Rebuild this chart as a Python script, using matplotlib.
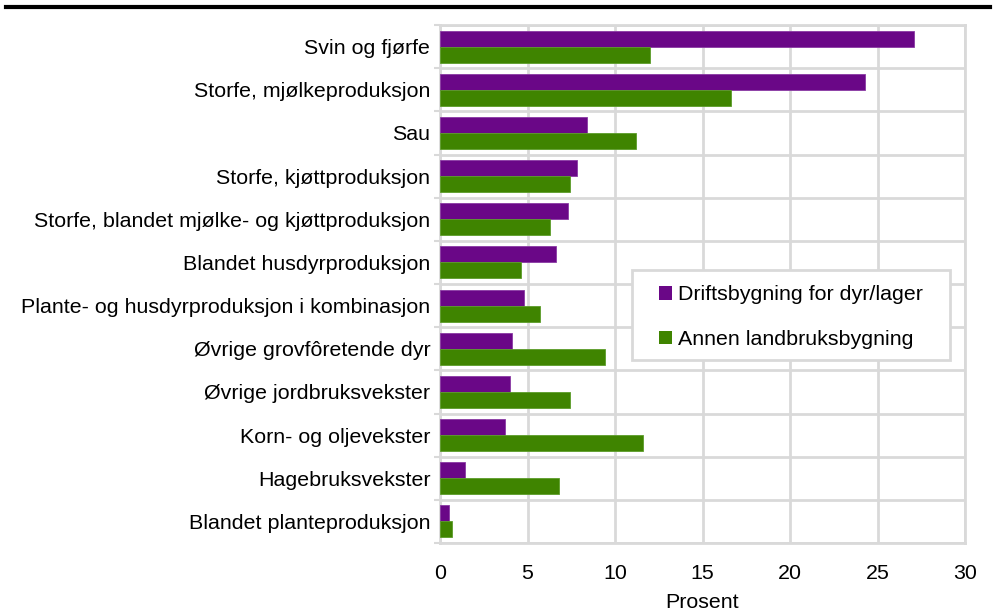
import numpy as np
import matplotlib
matplotlib.use('Agg')
import matplotlib.pyplot as plt
from matplotlib.lines import Line2D
from matplotlib.patches import Rectangle

plt.rcParams['font.family'] = ['Liberation Sans', 'DejaVu Sans']

categories = ['Svin og fjørfe', 'Storfe, mjølkeproduksjon', 'Sau',
              'Storfe, kjøttproduksjon',
              'Storfe, blandet mjølke- og kjøttproduksjon',
              'Blandet husdyrproduksjon',
              'Plante- og husdyrproduksjon i kombinasjon',
              'Øvrige grovfôretende dyr', 'Øvrige jordbruksvekster',
              'Korn- og oljevekster', 'Hagebruksvekster',
              'Blandet planteproduksjon']
drift = [27.1, 24.3, 8.4, 7.8, 7.3, 6.6, 4.8, 4.1, 4.0, 3.7, 1.4, 0.5]
annen = [12.0, 16.6, 11.2, 7.4, 6.3, 4.6, 5.7, 9.4, 7.4, 11.6, 6.8, 0.7]
xticks = [0, 5, 10, 15, 20, 25, 30]

purple = '#6a0787'
green = '#3f8400'
grid_c = '#d9d9d9'
fs = 15.4

fig = plt.figure(figsize=(9.93, 6.12), dpi=100)
ax = fig.add_axes([440 / 993, 1 - 543 / 612, 525 / 993, 518 / 612])

y = np.arange(len(categories))
h = 0.37
ax.barh(y - h / 2, drift, height=h, color=purple, edgecolor='#8a3aa3',
        linewidth=0.6, label='Driftsbygning for dyr/lager', zorder=3)
ax.barh(y + h / 2, annen, height=h, color=green, edgecolor='#5c9c2a',
        linewidth=0.6, label='Annen landbruksbygning', zorder=3)

ax.set_xlim(0, 30)
ax.set_ylim(len(categories) - 0.5, -0.5)
ax.set_xticks(xticks)
ax.set_yticks(y)
ax.set_yticklabels(categories)
ax.set_yticks(np.arange(len(categories) + 1) - 0.5, minor=True)

ax.grid(axis='x', color=grid_c, linewidth=2, zorder=0)
ax.grid(axis='y', which='minor', color=grid_c, linewidth=2, zorder=0)
ax.tick_params(axis='y', which='major', length=0, pad=7, labelsize=fs)
ax.tick_params(axis='y', which='minor', length=4, color=grid_c, width=1.5)
ax.tick_params(axis='x', length=0, pad=15, labelsize=fs)
for s in ax.spines.values():
    s.set_color(grid_c)
    s.set_linewidth(2)

ax.set_xlabel('Prosent', fontsize=fs, labelpad=7)

# legend box drawn separately so the padding can differ per side
ax.add_patch(Rectangle((0.366, 0.353), 0.605, 0.174, transform=ax.transAxes,
                       facecolor='white', edgecolor=grid_c, linewidth=2,
                       zorder=4))
leg = ax.legend(loc='center left', bbox_to_anchor=(0.418, 0.436), fontsize=fs,
                frameon=False, handlelength=0.6, handleheight=0.6,
                handletextpad=0.25, labelspacing=1.2, borderpad=0,
                borderaxespad=0)
leg.set_zorder(5)
for p in leg.get_patches():
    p.set_linewidth(0)

fig.add_artist(Line2D([6 / 993, 990 / 993], [1 - 7 / 612, 1 - 7 / 612],
                      color='black', linewidth=3))

fig.savefig('out.png', dpi=100)
